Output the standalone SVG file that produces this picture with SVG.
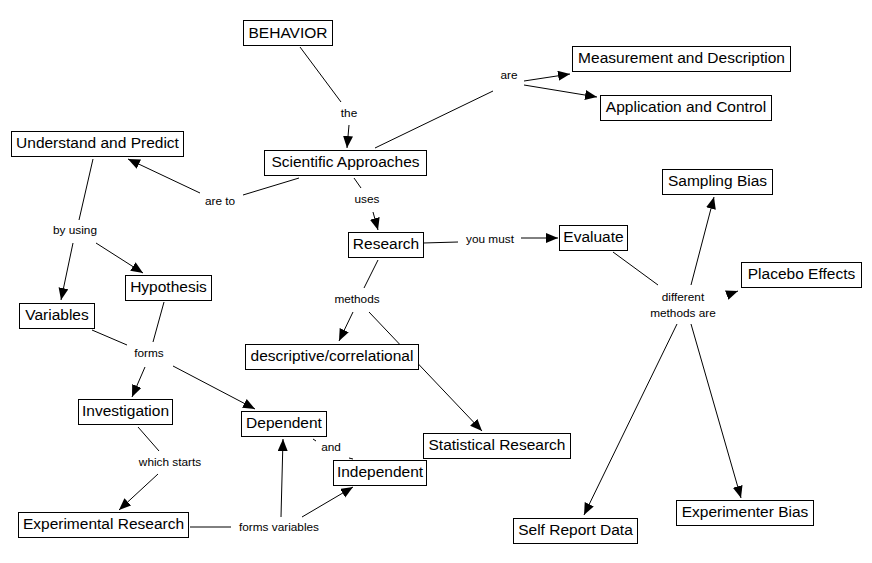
<svg xmlns="http://www.w3.org/2000/svg" width="872" height="563" viewBox="0 0 872 563">
<style>
.bg{fill:#fff}
.box{fill:#fff;stroke:#000;stroke-width:1}
.nt{font-family:"Liberation Sans",Arial,sans-serif;font-size:15.5px;fill:#000;text-anchor:middle}
.lt{font-family:"Liberation Sans",Arial,sans-serif;font-size:11.8px;fill:#000;text-anchor:middle}
.c line{stroke:#000;stroke-width:1;fill:none}
.c line.a{marker-end:url(#arr)}
</style>
<defs>
<marker id="arr" markerUnits="userSpaceOnUse" markerWidth="13" markerHeight="11" refX="12" refY="5" orient="auto">
<path d="M0,0 L12,5 L0,10 z" fill="#000"/>
</marker>
</defs>
<rect class="bg" x="0" y="0" width="872" height="563"/>
<g id="connectors" class="c">
<line x1="300" y1="47" x2="341" y2="102"/>
<line class="a" x1="349" y1="125" x2="347" y2="148"/>
<line x1="375" y1="148" x2="493" y2="91"/>
<line class="a" x1="524" y1="81" x2="570" y2="74"/>
<line class="a" x1="524" y1="85" x2="597" y2="97"/>
<line x1="299" y1="178" x2="243" y2="195"/>
<line class="a" x1="200" y1="193" x2="128" y2="159"/>
<line x1="354" y1="178" x2="361" y2="188"/>
<line class="a" x1="373" y1="212" x2="378" y2="230"/>
<line x1="93" y1="159" x2="79" y2="220"/>
<line class="a" x1="73" y1="243" x2="61" y2="300"/>
<line class="a" x1="96" y1="243" x2="143" y2="273"/>
<line x1="423" y1="243" x2="458" y2="242"/>
<line class="a" x1="521" y1="238" x2="558" y2="238"/>
<line x1="378" y1="260" x2="364" y2="288"/>
<line class="a" x1="353" y1="312" x2="339" y2="341"/>
<line class="a" x1="369" y1="312" x2="482" y2="431"/>
<line x1="164" y1="302" x2="153" y2="342"/>
<line x1="92" y1="330" x2="127" y2="345"/>
<line class="a" x1="145" y1="367" x2="132" y2="397"/>
<line class="a" x1="173" y1="366" x2="255" y2="409"/>
<line x1="138" y1="427" x2="159" y2="451"/>
<line class="a" x1="158" y1="474" x2="119" y2="510"/>
<line x1="190" y1="527" x2="231" y2="527"/>
<line class="a" x1="281" y1="517" x2="283" y2="439"/>
<line class="a" x1="302" y1="517" x2="353" y2="487"/>
<line x1="313" y1="439" x2="316" y2="441"/>
<line x1="349" y1="458" x2="353" y2="459"/>
<line x1="613" y1="252" x2="658" y2="285"/>
<line class="a" x1="691" y1="285" x2="714" y2="197"/>
<line class="a" x1="727" y1="295" x2="738" y2="291"/>
<line class="a" x1="677" y1="324" x2="584" y2="515"/>
<line class="a" x1="691" y1="324" x2="741" y2="498"/>
</g>
<g id="link-labels">
<text class="lt" x="349" y="117">the</text>
<text class="lt" x="509" y="79">are</text>
<text class="lt" x="220" y="205">are to</text>
<text class="lt" x="367" y="203">uses</text>
<text class="lt" x="75" y="234">by using</text>
<text class="lt" x="490" y="243">you must</text>
<text class="lt" x="357" y="303">methods</text>
<text class="lt" x="149" y="357">forms</text>
<text class="lt" x="170" y="466">which starts</text>
<text class="lt" x="279" y="531">forms variables</text>
<text class="lt" x="331" y="451">and</text>
<text class="lt" x="683" y="301">different</text>
<text class="lt" x="683" y="317">methods are</text>
</g>
<g id="n-behavior"><rect class="box" x="243.5" y="20.5" width="89" height="25"/><text class="nt" x="288" y="38">BEHAVIOR</text></g>
<g id="n-scientific"><rect class="box" x="264.5" y="150.5" width="162" height="25"/><text class="nt" x="345.5" y="167">Scientific Approaches</text></g>
<g id="n-measurement"><rect class="box" x="572.5" y="46.5" width="218" height="25"/><text class="nt" x="681.5" y="63">Measurement and Description</text></g>
<g id="n-application"><rect class="box" x="600.5" y="95.5" width="171" height="25"/><text class="nt" x="686" y="112">Application and Control</text></g>
<g id="n-understand"><rect class="box" x="11.5" y="131.5" width="172" height="25"/><text class="nt" x="97.5" y="148">Understand and Predict</text></g>
<g id="n-research"><rect class="box" x="348.5" y="232.5" width="75" height="25"/><text class="nt" x="386" y="249">Research</text></g>
<g id="n-evaluate"><rect class="box" x="559.5" y="225.5" width="68" height="25"/><text class="nt" x="593.5" y="242">Evaluate</text></g>
<g id="n-sampling"><rect class="box" x="662.5" y="169.5" width="110" height="25"/><text class="nt" x="717.5" y="186">Sampling Bias</text></g>
<g id="n-placebo"><rect class="box" x="741.5" y="262.5" width="120" height="25"/><text class="nt" x="801.5" y="279">Placebo Effects</text></g>
<g id="n-hypothesis"><rect class="box" x="125.5" y="275.5" width="86" height="25"/><text class="nt" x="168.5" y="292">Hypothesis</text></g>
<g id="n-variables"><rect class="box" x="19.5" y="303.5" width="75" height="25"/><text class="nt" x="57" y="320">Variables</text></g>
<g id="n-descriptive"><rect class="box" x="245.5" y="344.5" width="173" height="25"/><text class="nt" x="332" y="361">descriptive/correlational</text></g>
<g id="n-investigation"><rect class="box" x="78.5" y="399.5" width="94" height="25"/><text class="nt" x="125.5" y="416">Investigation</text></g>
<g id="n-dependent"><rect class="box" x="241.5" y="411.5" width="85" height="25"/><text class="nt" x="284" y="428">Dependent</text></g>
<g id="n-statistical"><rect class="box" x="423.5" y="433.5" width="147" height="25"/><text class="nt" x="497" y="450">Statistical Research</text></g>
<g id="n-independent"><rect class="box" x="333.5" y="460.5" width="93" height="25"/><text class="nt" x="380" y="477">Independent</text></g>
<g id="n-experimental"><rect class="box" x="18.5" y="512.5" width="170" height="25"/><text class="nt" x="103.5" y="529">Experimental Research</text></g>
<g id="n-experimenter"><rect class="box" x="676.5" y="500.5" width="137" height="25"/><text class="nt" x="745" y="517">Experimenter Bias</text></g>
<g id="n-selfreport"><rect class="box" x="513.5" y="518.5" width="124" height="25"/><text class="nt" x="575.5" y="535">Self Report Data</text></g>
</svg>
